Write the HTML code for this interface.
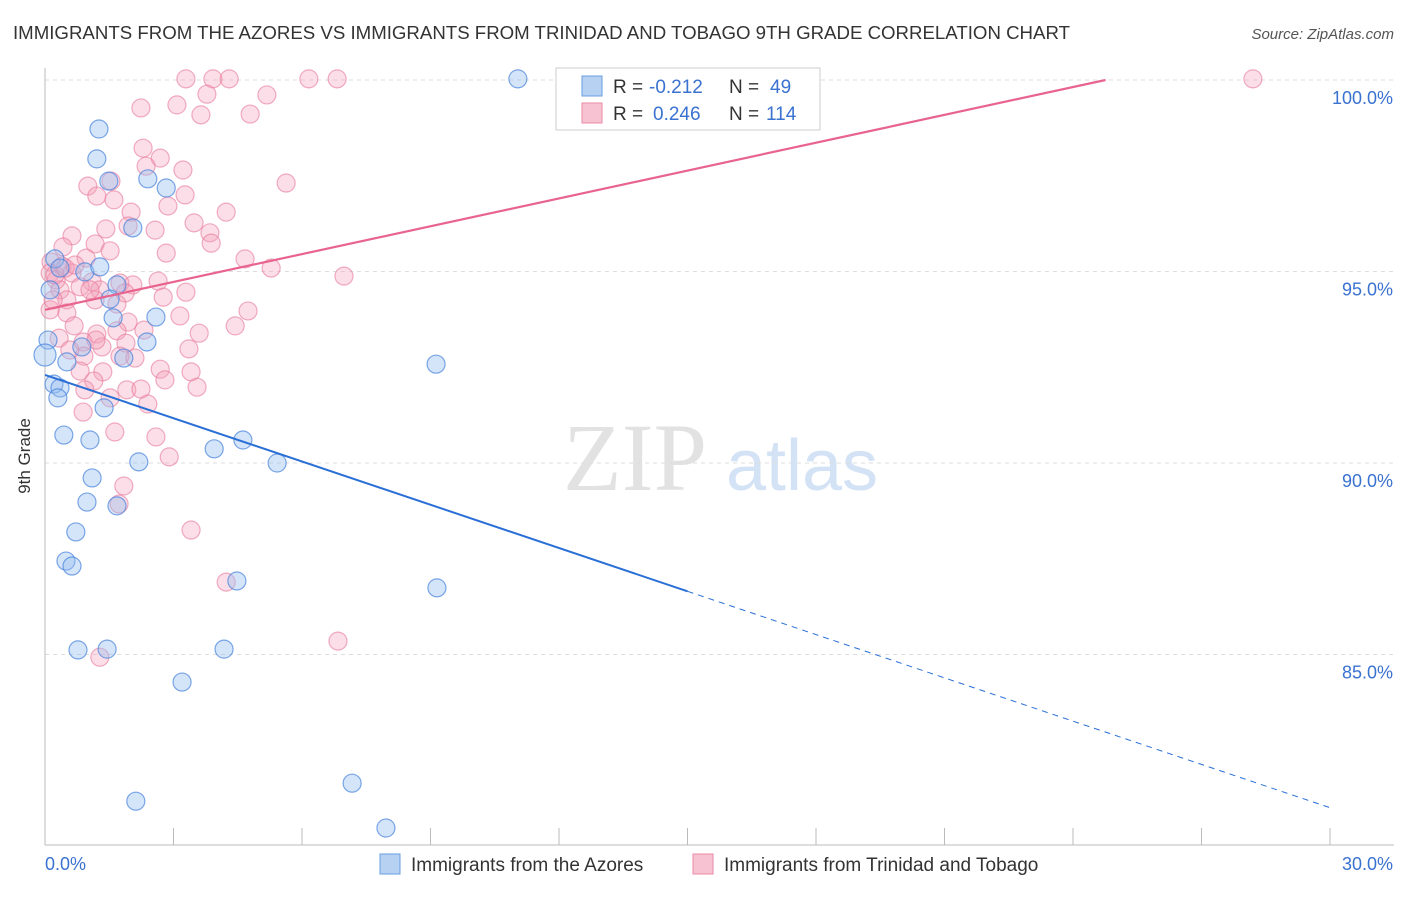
<!DOCTYPE html>
<html><head><meta charset="utf-8"><style>
body{margin:0;background:#fff;font-family:"Liberation Sans",sans-serif;}
svg text{font-family:"Liberation Sans",sans-serif;}
</style></head><body>
<svg id="chart" width="1406" height="892" xmlns="http://www.w3.org/2000/svg">
<text x="13" y="39" font-size="18" fill="#333" textLength="1057" lengthAdjust="spacingAndGlyphs">IMMIGRANTS FROM THE AZORES VS IMMIGRANTS FROM TRINIDAD AND TOBAGO 9TH GRADE CORRELATION CHART</text>
<text x="1394" y="39" font-size="15" fill="#555" text-anchor="end" font-style="italic">Source: ZipAtlas.com</text>
<text x="30" y="456" font-size="17" fill="#333" transform="rotate(-90 30 456)" text-anchor="middle">9th Grade</text>
<g><text x="635" y="490" font-size="96" fill="#e2e2e2" text-anchor="middle" font-family="Liberation Serif,serif" style="font-family:'Liberation Serif',serif">ZIP</text><text x="802" y="490" font-size="72" fill="#d3e2f5" text-anchor="middle">atlas</text></g>
<g id="grid"></g><g id="axes"></g><g id="pts"></g><g id="lines"></g>
<g>
<rect x="556" y="68" width="264" height="62" fill="#fff" stroke="#ccc"/>
<rect x="582" y="76" width="20" height="20" fill="#b7d1f3" stroke="#6a9de0"/>
<rect x="582" y="103" width="20" height="20" fill="#f7c3d2" stroke="#e88aa6"/>
<text x="613" y="93" font-size="19" fill="#333">R =</text>
<text x="649" y="93" font-size="19" fill="#3a72d0">-0.212</text>
<text x="729" y="93" font-size="19" fill="#333">N =</text>
<text x="770" y="93" font-size="19" fill="#3a72d0">49</text>
<text x="613" y="120" font-size="19" fill="#333">R =</text>
<text x="653" y="120" font-size="19" fill="#3a72d0">0.246</text>
<text x="729" y="120" font-size="19" fill="#333">N =</text>
<text x="766" y="120" font-size="19" fill="#3a72d0">114</text>
</g>
<g>
<rect x="380" y="854" width="20" height="20" fill="#b7d1f3" stroke="#6a9de0"/>
<text x="411" y="871" font-size="19" fill="#333">Immigrants from the Azores</text>
<rect x="693" y="854" width="20" height="20" fill="#f7c3d2" stroke="#e88aa6"/>
<text x="724" y="871" font-size="19" fill="#333">Immigrants from Trinidad and Tobago</text>
</g>
</svg>
<script>
const blueX=[11.04,1.26,1.21,1.49,2.40,2.83,2.05,0.23,0.93,1.28,1.68,1.52,2.59,1.59,2.38,0.07,0.00,0.51,1.84,0.86,0.21,0.35,0.30,1.38,0.44,1.05,4.62,3.95,5.42,2.19,9.13,1.10,0.98,1.68,0.72,0.49,0.63,4.48,9.15,0.77,1.45,4.18,3.20,7.17,2.12,7.96,0.12,0.35];
const blueY=[100.03,98.72,97.94,97.36,97.42,97.18,96.14,95.33,94.99,95.12,94.65,94.28,93.81,93.79,93.16,93.21,92.82,92.64,92.74,93.03,92.06,91.96,91.70,91.44,90.73,90.60,90.60,90.37,90.00,90.03,92.58,89.61,88.98,88.88,88.20,87.44,87.31,86.92,86.74,85.12,85.14,85.14,84.28,81.64,81.17,80.47,94.52,95.09];
const pinkX=[3.29,3.92,4.30,6.16,6.82,28.20,3.78,5.18,2.24,3.08,3.64,4.79,2.29,2.69,2.36,3.22,1.54,1.00,1.21,3.27,5.63,1.61,2.87,2.01,4.23,3.48,1.42,1.94,2.57,3.85,0.63,3.88,0.42,1.17,1.52,2.83,4.67,0.14,0.40,0.96,5.28,0.12,0.63,6.98,0.26,1.10,1.75,2.05,2.64,0.35,0.82,1.28,1.87,3.29,2.76,0.51,1.17,1.68,4.74,3.15,0.51,1.94,4.44,0.68,3.60,1.68,1.21,2.31,0.33,0.89,1.89,1.33,1.75,2.10,3.36,0.91,2.69,3.41,0.82,1.35,2.80,1.14,1.91,3.55,0.93,2.24,1.52,2.40,0.89,2.59,1.63,2.90,1.84,1.73,3.41,4.23,6.84,1.28,0.12,0.23,0.47,0.70,1.05,1.19,0.58,0.19];
const pinkY=[100.03,100.03,100.03,100.03,100.03,100.03,99.63,99.61,99.27,99.35,99.09,99.11,98.22,97.96,97.75,97.65,97.36,97.23,96.97,97.00,97.31,96.87,96.71,96.55,96.55,96.27,96.11,96.19,96.08,96.01,95.93,95.74,95.64,95.72,95.54,95.48,95.33,95.25,95.14,95.35,95.09,94.96,94.96,94.88,94.78,94.73,94.70,94.65,94.75,94.52,94.60,94.52,94.44,94.46,94.33,94.26,94.26,94.15,93.97,93.84,93.92,93.68,93.58,93.58,93.39,93.45,93.37,93.47,93.26,93.16,93.13,93.03,92.79,92.74,92.98,92.79,92.45,92.38,92.40,92.38,92.17,92.14,91.91,91.98,91.91,91.93,91.70,91.54,91.33,90.68,90.81,90.16,89.40,88.93,88.25,86.89,85.35,84.93,94.00,94.91,95.09,95.17,94.52,93.21,92.95,94.26];
const blueTrend=[92.3,81.0];
const pinkTrend=[94.0,101.27];
const yTicks=[100,95,90,85];
const xTickLabels=["0.0%","30.0%"];
const NS="http://www.w3.org/2000/svg";
const sx=v=>45+v*(1285/30);
const sy=v=>80+(100-v)*38.3;
function mk(tag,attrs,parent){const e=document.createElementNS(NS,tag);for(const k in attrs)e.setAttribute(k,attrs[k]);parent.appendChild(e);return e;}
const grid=document.getElementById('grid'),axes=document.getElementById('axes'),pts=document.getElementById('pts'),lines=document.getElementById('lines');
yTicks.forEach(t=>{
 const l=mk('line',{x1:45,x2:1394,y1:sy(t),y2:sy(t),stroke:'#ddd','stroke-dasharray':'4,4'},grid);
 
 
 const tx=mk('text',{x:1393,y:sy(t)+24,'font-size':18,fill:'#3a72d0','text-anchor':'end'},axes);
 tx.textContent=t.toFixed(1)+'%';
 
 
});
mk('line',{x1:45,x2:45,y1:68,y2:845,stroke:'#bbb'},axes);
mk('line',{x1:45,x2:1394,y1:845,y2:845,stroke:'#bbb'},axes);
for(let i=0;i<=10;i++){mk('line',{x1:sx(i*3),x2:sx(i*3),y1:828,y2:845,stroke:'#bbb'},axes);}
const xl0=mk('text',{x:45,y:870,'font-size':18,fill:'#3a72d0'},axes);xl0.textContent=xTickLabels[0];


const xl1=mk('text',{x:1393,y:870,'font-size':18,fill:'#3a72d0','text-anchor':'end'},axes);xl1.textContent=xTickLabels[1];


pinkX.forEach((x,i)=>{const c=mk('circle',{cx:sx(x),cy:sy(pinkY[i]),r:9,fill:'rgba(244,160,185,0.35)',stroke:'rgba(232,120,155,0.6)','stroke-width':1.2},pts);
 
 });
blueX.forEach((x,i)=>{const c=mk('circle',{cx:sx(x),cy:sy(blueY[i]),r:(x===0?11:9),fill:'rgba(150,190,240,0.4)',stroke:'rgba(70,130,220,0.7)','stroke-width':1.2},pts);
 
 });
const bAt=x=>blueTrend[0]+(blueTrend[1]-blueTrend[0])*x/30;
const bl=mk('line',{x1:sx(0),y1:sy(bAt(0)),x2:sx(15),y2:sy(bAt(15)),stroke:'#2a6fd6','stroke-width':2},lines);


const bd=mk('line',{x1:sx(15),y1:sy(bAt(15)),x2:sx(30),y2:sy(bAt(30)),stroke:'#2a6fd6','stroke-width':1,'stroke-dasharray':'6,5'},lines);


const pAt=x=>pinkTrend[0]+(pinkTrend[1]-pinkTrend[0])*x/30;
const xEnd=(100-pinkTrend[0])/(pinkTrend[1]-pinkTrend[0])*30;
const pl=mk('line',{x1:sx(0),y1:sy(pAt(0)),x2:sx(xEnd),y2:sy(100),stroke:'#e8648f','stroke-width':2.2},lines);


</script>
</body></html>
